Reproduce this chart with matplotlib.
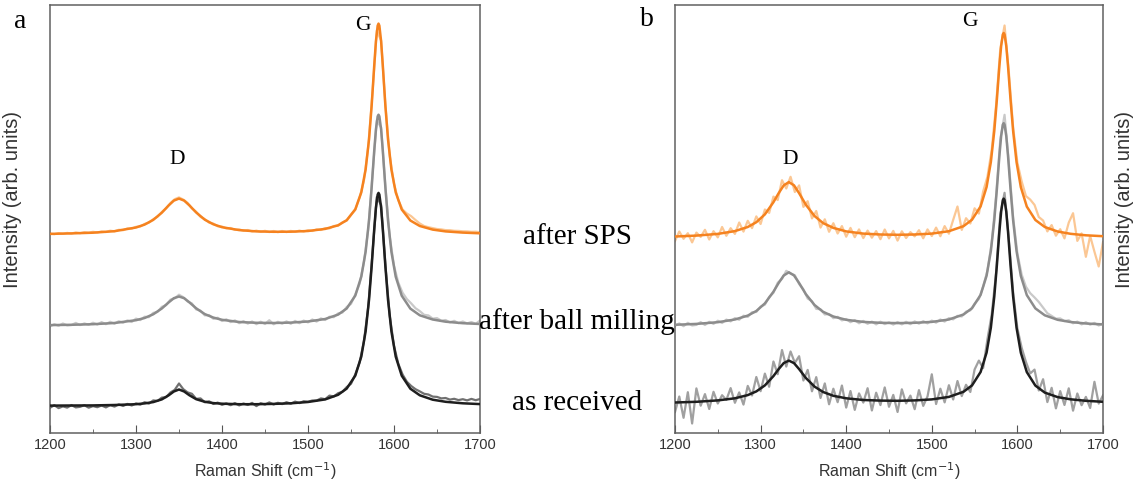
import numpy as np
import matplotlib
matplotlib.use("Agg")
import matplotlib.pyplot as plt
from matplotlib.ticker import MultipleLocator

# Raman spectra, intensity in arbitrary units (stacked offsets kept as read)
raw_x = np.arange(1200, 1701, 5)

# ---- panel a ----
fit_x_a = [1200, 1225, 1250, 1275, 1300, 1310, 1320, 1330, 1338, 1344,
           1350, 1356, 1362, 1370, 1380, 1390, 1400, 1420, 1440, 1460,
           1480, 1500, 1520, 1535, 1545, 1555, 1562, 1567, 1571, 1574,
           1577, 1579, 1581, 1582, 1583, 1585, 1587, 1590, 1593, 1597,
           1602, 1609, 1619, 1630, 1645, 1660, 1680, 1700]

sps_fit_a = [199.1, 199.6, 200.3, 201.8, 205.5, 208.4, 213.1, 220.3, 227.6, 232.4,
             234.4, 232.4, 227.7, 220.5, 213.3, 208.7, 205.8, 202.9, 201.6, 201.2,
             201.3, 202.0, 204.1, 207.7, 212.8, 223.7, 240.7, 263.4, 293.9, 327.1,
             367.2, 391.9, 407.3, 409.4, 407.3, 391.9, 367.2, 327.0, 293.9, 263.3,
             240.6, 223.5, 212.5, 207.0, 203.4, 201.6, 200.4, 199.7]
ball_fit_a = [107.9, 108.2, 108.8, 110.0, 112.8, 115.0, 118.7, 124.5, 130.6, 134.8,
              136.5, 134.8, 130.7, 124.7, 118.9, 115.4, 113.2, 111.0, 110.2, 110.0,
              110.4, 111.5, 114.0, 118.4, 124.5, 137.4, 156.4, 181.2, 212.9, 245.3,
              282.2, 303.7, 316.6, 318.3, 316.6, 303.7, 282.2, 245.3, 212.8, 181.1,
              156.3, 137.3, 124.4, 117.7, 113.5, 111.3, 109.8, 109.0]
recv_fit_a = [27.4, 27.5, 27.6, 28.0, 28.8, 29.6, 30.9, 33.6, 37.7, 41.5,
              43.5, 41.5, 37.8, 33.8, 31.2, 29.9, 29.3, 28.8, 28.8, 29.1,
              29.7, 31.0, 33.6, 38.2, 44.4, 57.4, 76.5, 101.6, 133.6, 166.4,
              203.7, 225.4, 238.4, 240.1, 238.4, 225.4, 203.7, 166.4, 133.6, 101.6,
              76.4, 57.3, 44.3, 37.7, 33.3, 31.2, 29.7, 28.9]

sps_raw_a = [199.5, 198.8, 199.9, 199.2, 200.1, 199.4, 200.6, 199.8, 200.9, 200.3,
             201.2, 200.5, 201.6, 201.0, 202.3, 201.7, 203.2, 202.8, 204.6, 204.3,
             206.2, 206.5, 209.1, 210.3, 213.8, 216.2, 221.0, 224.6, 229.9, 233.8,
             235.6, 233.4, 230.1, 224.6, 221.2, 216.1, 213.9, 210.3, 209.4, 206.7,
             206.5, 204.6, 205.0, 203.1, 203.6, 202.2, 203.0, 201.5, 202.4, 201.1,
             202.2, 200.9, 202.0, 200.8, 202.0, 200.9, 202.1, 201.1, 202.4, 201.4,
             202.8, 202.0, 203.6, 203.0, 204.9, 204.6, 207.0, 207.3, 210.6, 212.4,
             218.0, 223.2, 235.4, 252.2, 286.0, 340.5, 402.5, 392.5, 327.6, 277.5,
             249.0, 232.8, 223.4, 219.5, 216.8, 213.0, 209.5, 207.0, 205.8, 204.9,
             204.0, 203.6, 202.9, 202.8, 202.2, 202.1, 201.7, 201.6, 201.2, 201.3,
             200.8]
ball_raw_a = [106.5, 108.8, 107.2, 109.5, 107.6, 108.0, 110.1, 107.9, 109.6, 108.2,
              110.3, 108.4, 110.9, 108.8, 111.2, 109.3, 111.8, 110.2, 112.6, 111.0,
              114.4, 112.9, 116.3, 115.8, 120.1, 121.0, 126.2, 127.9, 133.4, 134.6,
              138.3, 135.8, 131.5, 129.6, 123.5, 122.4, 117.6, 117.9, 114.2, 115.3,
              112.0, 113.7, 110.9, 112.6, 109.8, 111.9, 109.4, 111.5, 108.8, 111.3,
              109.0, 112.8, 108.7, 111.2, 109.3, 111.6, 109.2, 112.1, 109.8, 112.4,
              110.6, 113.5, 111.4, 114.6, 113.0, 116.3, 115.8, 119.6, 120.4, 126.0,
              129.1, 138.6, 149.2, 170.8, 203.1, 258.6, 312.4, 305.6, 246.2, 196.8,
              167.3, 150.4, 140.2, 133.9, 129.6, 124.8, 121.9, 118.2, 117.6, 114.4,
              114.9, 112.3, 113.0, 110.6, 112.2, 109.8, 111.5, 109.6, 111.0, 109.2,
              112.5]
recv_raw_a = [25.2, 27.8, 24.9, 26.6, 25.4, 27.9, 25.6, 26.2, 27.8, 25.3,
              26.9, 25.8, 27.5, 25.6, 27.9, 26.4, 28.6, 27.0, 29.1, 27.5,
              29.6, 28.3, 30.8, 29.4, 32.6, 32.1, 35.4, 35.8, 40.5, 43.1,
              49.5, 43.8, 40.6, 39.2, 34.1, 34.6, 30.8, 31.7, 29.0, 30.4,
              28.1, 29.6, 27.8, 29.9, 27.6, 29.5, 28.0, 30.1, 26.9, 29.8,
              28.4, 30.6, 28.5, 30.2, 28.9, 30.8, 29.3, 31.4, 29.9, 31.8,
              31.2, 32.5, 32.4, 34.6, 33.8, 37.4, 36.5, 39.8, 41.2, 45.9,
              49.2, 58.6, 70.5, 91.4, 125.6, 180.2, 236.0, 228.1, 168.0, 117.4,
              87.1, 69.2, 58.4, 51.2, 47.0, 43.8, 41.6, 39.2, 38.5, 36.4,
              36.1, 34.6, 35.0, 33.4, 34.2, 32.9, 33.8, 32.6, 34.1, 32.8,
              34.0]

# ---- panel b ----
fit_x_b = [1200, 1225, 1250, 1270, 1285, 1295, 1305, 1315, 1321, 1327,
           1333, 1339, 1345, 1353, 1363, 1373, 1385, 1400, 1420, 1440,
           1460, 1480, 1500, 1520, 1537, 1547, 1557, 1564, 1569, 1573,
           1576, 1579, 1581, 1583, 1584, 1585, 1587, 1589, 1592, 1595,
           1599, 1604, 1611, 1621, 1632, 1647, 1662, 1680, 1700]

sps_fit_b = [196.5, 197.4, 199.1, 201.9, 206.0, 210.8, 218.6, 230.8, 239.7, 247.6,
             250.9, 247.7, 239.8, 228.1, 217.0, 209.9, 205.1, 201.6, 199.4, 198.5,
             198.2, 198.5, 199.4, 201.8, 206.8, 213.3, 226.6, 246.0, 271.0, 302.1,
             333.1, 367.4, 386.9, 398.5, 400.0, 398.5, 386.9, 367.4, 333.1, 302.1,
             270.9, 245.9, 226.4, 213.0, 206.0, 201.5, 199.2, 197.7, 196.8]
ball_fit_b = [108.2, 109.1, 110.8, 113.5, 117.4, 122.0, 129.6, 141.3, 149.9, 157.5,
              160.7, 157.6, 150.0, 138.7, 128.0, 121.2, 116.5, 113.2, 111.1, 110.2,
              109.9, 110.2, 111.1, 113.5, 118.5, 124.8, 138.1, 157.3, 182.0, 212.8,
              243.6, 277.5, 296.9, 308.3, 309.8, 308.3, 296.9, 277.5, 243.6, 212.8,
              181.9, 157.1, 137.9, 124.6, 117.7, 113.2, 111.0, 109.5, 108.6]
recv_fit_b = [30.5, 31.2, 32.6, 34.7, 37.9, 41.6, 47.6, 56.9, 63.8, 69.9,
              72.4, 69.9, 63.9, 54.9, 46.4, 41.0, 37.2, 34.7, 33.0, 32.4,
              32.2, 32.6, 33.6, 36.1, 41.2, 47.6, 61.0, 80.4, 105.4, 136.5,
              167.5, 201.8, 221.3, 232.9, 234.4, 232.9, 221.3, 201.8, 167.5, 136.5,
              105.3, 80.3, 60.9, 47.4, 40.4, 35.9, 33.7, 32.2, 31.2]

sps_raw_b = [192.0, 201.5, 194.2, 199.8, 190.6, 200.4, 196.1, 203.2, 193.5, 201.8,
             195.6, 206.0, 197.2, 204.8, 199.1, 210.5, 201.4, 212.2, 204.9, 216.6,
             209.0, 223.5, 220.1, 236.4, 233.0, 252.8, 244.5, 256.2, 241.0, 247.6,
             226.1, 231.8, 214.6, 222.0, 205.4, 213.7, 201.2, 209.8, 199.5, 206.9,
             196.3, 205.1, 195.8, 203.6, 194.9, 202.4, 195.3, 201.9, 193.8, 203.5,
             194.6, 202.1, 192.4, 201.7, 195.0, 200.9, 196.6, 202.8, 194.7, 203.6,
             197.0, 205.4, 196.8, 206.9, 199.3, 213.2, 226.5, 203.1, 214.8, 209.5,
             224.7, 219.4, 241.6, 256.3, 283.0, 326.9, 384.1, 407.5, 361.0, 305.8,
             270.2, 251.6, 236.9, 233.4, 228.1, 216.0, 212.5, 201.6, 207.9, 197.3,
             203.8, 194.6, 210.4, 219.8, 192.1, 199.6, 176.2, 197.0, 181.3, 166.5,
             190.8]
ball_raw_b = [107.1, 109.6, 106.8, 110.2, 107.5, 108.1, 110.9, 108.0, 111.2, 109.1,
              112.3, 110.0, 113.4, 111.6, 114.9, 113.2, 117.3, 116.1, 120.8, 121.0,
              126.4, 128.3, 136.1, 140.2, 150.3, 154.1, 162.2, 159.4, 157.8, 148.9,
              143.6, 134.4, 131.9, 124.1, 123.8, 118.5, 119.0, 114.8, 116.2, 112.6,
              114.0, 110.8, 112.9, 109.7, 112.1, 109.2, 111.4, 108.6, 111.3, 108.9,
              110.7, 108.4, 111.0, 108.6, 111.2, 108.8, 111.6, 109.3, 111.9, 109.6,
              112.4, 110.3, 113.5, 111.4, 114.9, 113.6, 117.2, 116.5, 121.4, 122.6,
              129.3, 134.0, 146.5, 162.4, 190.6, 236.0, 293.5, 318.2, 270.4, 215.9,
              179.6, 158.4, 146.2, 139.8, 135.6, 131.0, 125.4, 119.8, 117.1, 114.3,
              114.6, 111.9, 112.8, 109.7, 111.4, 108.6, 110.8, 108.3, 110.1, 107.5,
              109.6]
recv_raw_b = [21.0, 36.5, 15.2, 40.8, 9.5, 44.6, 27.3, 38.9, 24.0, 41.2,
              29.5, 37.8, 33.1, 44.9, 30.2, 40.6, 28.4, 47.1, 37.5, 56.0,
              41.8, 59.4, 46.2, 71.5, 58.8, 83.0, 66.4, 81.5, 70.2, 76.8,
              52.5, 63.1, 41.7, 55.9, 35.0, 49.6, 28.7, 44.3, 30.8, 47.5,
              25.4, 42.0, 23.1, 39.6, 30.4, 44.8, 22.5, 40.3, 27.9, 45.6,
              26.2, 38.1, 21.0, 43.7, 29.6, 37.4, 23.8, 42.9, 27.1, 36.6,
              58.7, 29.0, 44.3, 30.6, 47.8, 33.5, 52.0, 36.9, 48.2, 41.0,
              63.5, 72.4, 64.9, 93.8, 118.5, 159.4, 219.0, 240.2, 193.6, 140.8,
              104.5, 85.2, 71.0, 59.6, 63.4, 42.5, 53.8, 30.9, 45.2, 24.6,
              41.9, 28.0, 44.7, 22.3, 39.5, 27.8, 36.1, 25.0, 51.2, 29.4,
              37.6]

W, H = 1138, 494
fig = plt.figure(figsize=(W / 100, H / 100), dpi=100)
ax_a = fig.add_axes([50 / W, 61 / H, 430 / W, 428 / H])
ax_b = fig.add_axes([675 / W, 61 / H, 428 / W, 428 / H])

orange, orange_lt = "#f5821f", "#fbc794"
gray, gray_lt = "#8c8c8c", "#c9c9c9"
black = "#1e1e1e"

def draw(ax, fit_x, fits, raws, raw_cols):
    for raw, c in zip(raws, raw_cols):
        ax.plot(raw_x, raw, color=c, lw=1.6, zorder=2)
    for fit, c in zip(fits, [orange, gray, black]):
        ax.plot(fit_x, fit, color=c, lw=1.8, zorder=3)
    ax.set_xlim(1200, 1700)
    ax.set_ylim(0, 428)
    ax.xaxis.set_major_locator(MultipleLocator(100))
    ax.xaxis.set_minor_locator(MultipleLocator(50))
    ax.tick_params(axis="x", which="both", direction="in", colors="#555555",
                   labelcolor="#333333", labelsize=10.5)
    ax.tick_params(axis="x", which="major", length=6)
    ax.tick_params(axis="x", which="minor", length=3)
    ax.set_yticks([])
    for sp in ax.spines.values():
        sp.set_color("#606060")
        sp.set_linewidth(1.1)
    ax.set_xlabel("Raman Shift (cm$^{-1}$)", fontsize=11.5, color="#333333",
                  family="Liberation Sans", labelpad=6)
    for lab in ax.get_xticklabels():
        lab.set_family("Liberation Sans")

draw(ax_a, fit_x_a, [sps_fit_a, ball_fit_a, recv_fit_a],
     [sps_raw_a, ball_raw_a, recv_raw_a], [orange_lt, gray_lt, "#707070"])
draw(ax_b, fit_x_b, [sps_fit_b, ball_fit_b, recv_fit_b],
     [sps_raw_b, ball_raw_b, recv_raw_b], [orange_lt, gray_lt, "#a0a0a0"])

ax_a.set_ylabel("Intensity (arb. units)", fontsize=14.5, color="#333333",
                family="Liberation Sans")
ax_a.yaxis.set_label_coords(-0.064, 0.545)
ax_b.yaxis.set_label_position("right")
ax_b.set_ylabel("Intensity (arb. units)", fontsize=14.5, color="#333333",
                family="Liberation Sans", rotation=90)
ax_b.yaxis.set_label_coords(1.028, 0.545)

serif = "Liberation Serif"
def ftext(x, y, s, size, **kw):
    fig.text(x / W, 1 - y / H, s, fontsize=size, family=serif,
             ha="center", va="center", **kw)

ftext(20, 22, "a", 20)
ftext(647, 20, "b", 20)
ftext(177, 160, "D", 15.5)
ftext(363, 25, "G", 15.5)
ftext(790, 160, "D", 15.5)
ftext(970, 22, "G", 15.5)
ftext(577, 237, "after SPS", 21)
ftext(577, 322, "after ball milling", 21)
ftext(577, 403, "as received", 21)

fig.savefig("out.png", dpi=100)
